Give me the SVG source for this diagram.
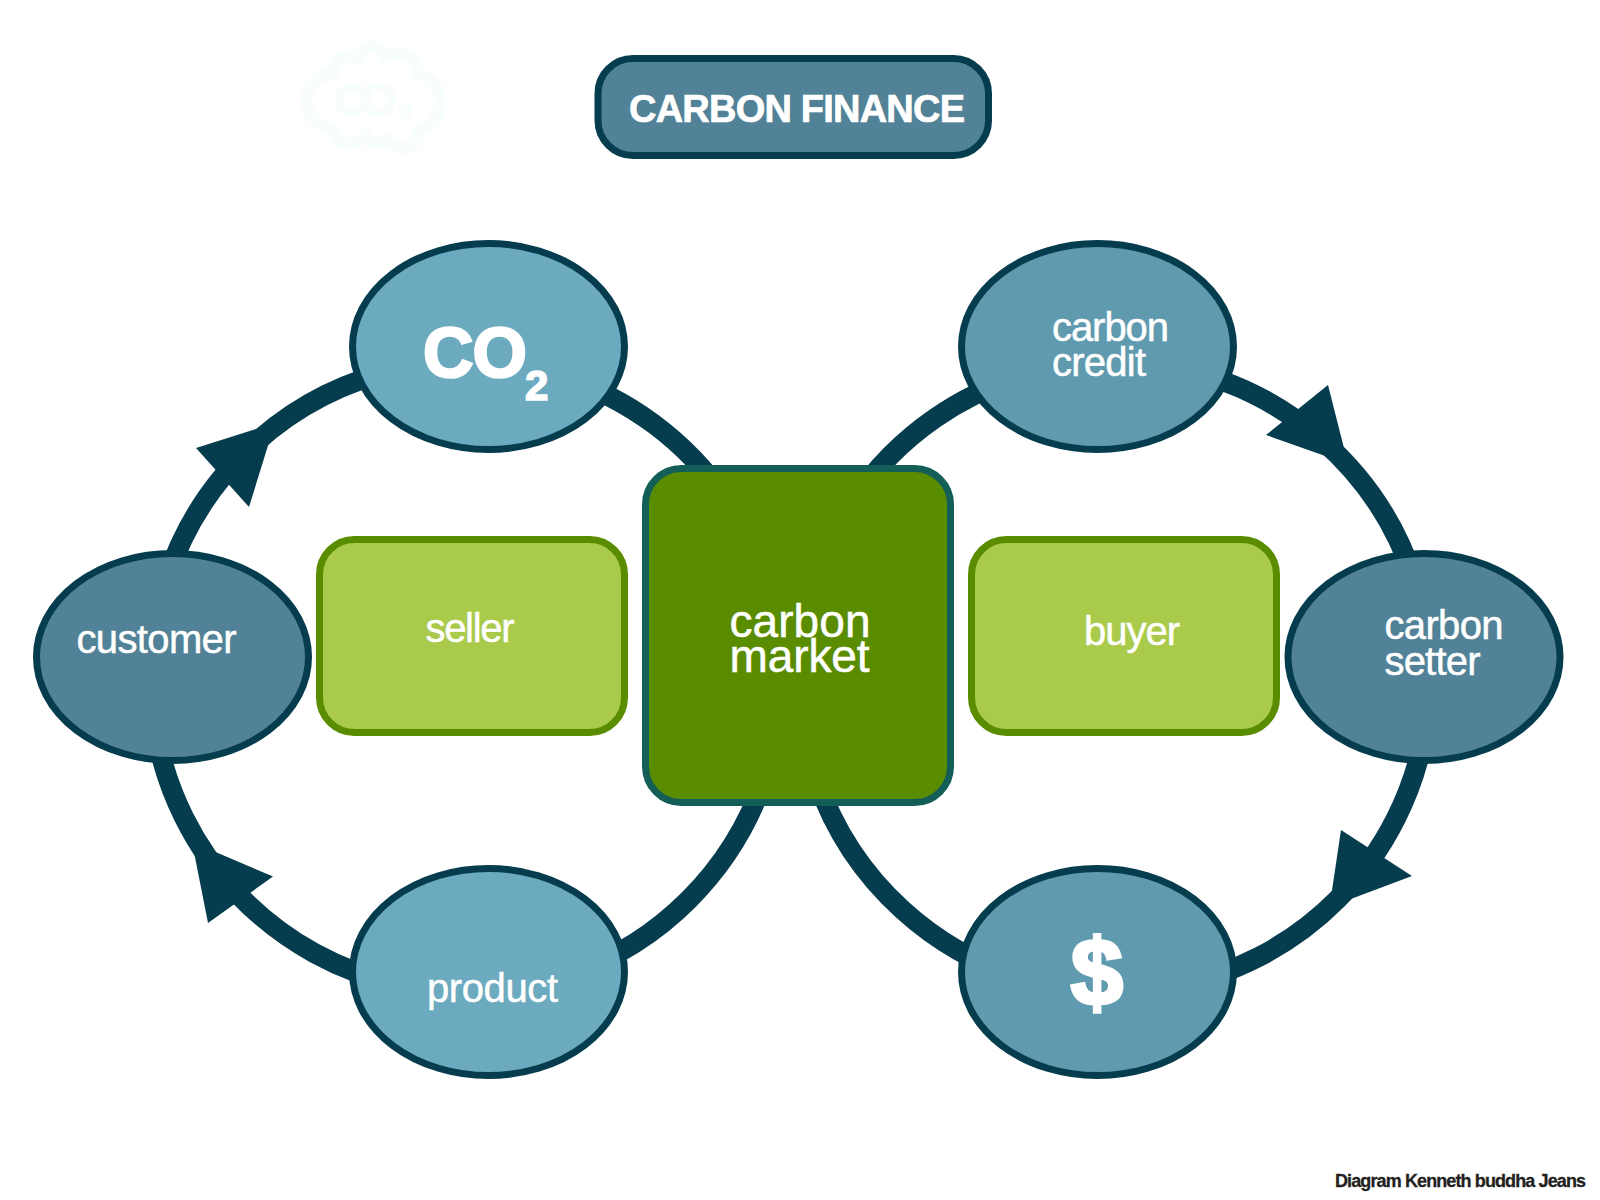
<svg xmlns="http://www.w3.org/2000/svg" width="1600" height="1200" viewBox="0 0 1600 1200">
<style>
text{font-family:"Liberation Sans",Arial,sans-serif;fill:#fff;stroke:#fff;stroke-width:.5px;font-size:40px}
.bold{font-weight:700;stroke-width:1.6px}
.n{stroke:#063d4e;stroke-width:7}
.a{fill:#6baabf}.b{fill:#609aaf}.c{fill:#518297}
.g{fill:#a9ca4b;stroke:#5a8c00;stroke-width:7}
.arc{fill:none;stroke:#063d4e;stroke-width:20}
.h{fill:#063d4e}
.pale{fill:#f8fdfd;stroke:#f8fdfd}
</style>
<rect width="1600" height="1200" fill="#fff"/>
<g id="co2-cloud">
<path d="M332.700 73.300A17 17 0 0 1 358.300 58.300A13.600 13.600 0 0 1 385 56.700A20 20 0 0 1 416.700 73.300A29 29 0 0 1 418.300 130A16.500 16.500 0 0 1 386.700 138.300A14 14 0 0 1 365 135A18 18 0 0 1 331.700 128.300A27.600 27.600 0 0 1 332.700 73.300Z" fill="#fff" stroke="#f8fdfd" stroke-width="12" stroke-linejoin="round"/>
<text class="pale bold" x="334" y="116" textLength="62" style="font-size:46px">CO</text>
<text class="pale bold" x="399" y="120" style="font-size:24px">2</text>
</g>
<g id="connectors">
<path class="arc" d="M166.300 580A315 315 0 0 1 400 369"/>
<path class="arc" d="M560 376.400A315 315 0 0 1 726.600 500"/>
<path class="arc" d="M155.500 730A315 315 0 0 0 400 985"/>
<path class="arc" d="M763.700 780A315 315 0 0 1 570 974.300"/>
<path class="arc" d="M816.800 780A315 315 0 0 0 1040 983"/>
<path class="arc" d="M853.900 500A315 315 0 0 1 1040 371"/>
<path class="arc" d="M1170 367A315 315 0 0 1 1414.200 580"/>
<path class="arc" d="M1425 730A315 315 0 0 1 1170 987"/>
<polygon class="h" points="196,448 249,507 275,423"/>
<polygon class="h" points="1328,385 1266,435 1348,464"/>
<polygon class="h" points="1341,830 1412,876 1329.500,907"/>
<polygon class="h" points="273,876.500 208,923 192,842"/>
</g>
<g id="title"><rect class="n c" x="598" y="58.500" width="390.500" height="97" rx="35" ry="35"/><text class="bold" x="629" y="121.500" textLength="336" style="font-size:38px;stroke-width:.7px">CARBON FINANCE</text></g>
<g id="co2"><ellipse class="n a" cx="488.500" cy="346.500" rx="136" ry="103"/><text class="bold" x="423" y="377" textLength="104" style="font-size:70px;stroke-width:2.500px">CO</text><text class="bold" x="525" y="400" style="font-size:42px">2</text></g>
<g id="customer"><ellipse class="n c" cx="172.500" cy="657" rx="136" ry="103.500"/><text x="76.500" y="652.500" textLength="160">customer</text></g>
<g id="product"><ellipse class="n a" cx="488.500" cy="972" rx="136" ry="103.500"/><text x="427" y="1001.500" textLength="131">product</text></g>
<g id="carbon-credit"><ellipse class="n b" cx="1097.500" cy="346.500" rx="136" ry="103"/><text x="1052" y="340.500" textLength="117">carbon</text><text x="1052" y="376" textLength="94">credit</text></g>
<g id="carbon-setter"><ellipse class="n c" cx="1424" cy="657" rx="136" ry="103.500"/><text x="1384.500" y="638.500" textLength="119">carbon</text><text x="1384.500" y="674.500" textLength="96">setter</text></g>
<g id="dollar"><ellipse class="n b" cx="1097.500" cy="972" rx="136" ry="103.500"/><text class="bold" x="1097" y="1005" text-anchor="middle" style="font-size:94px;stroke-width:3.500px">$</text></g>
<g id="seller"><rect class="g" x="319.500" y="539.500" width="305" height="193" rx="35" ry="35"/><text x="425.500" y="642" textLength="89">seller</text></g>
<g id="buyer"><rect class="g" x="971.500" y="539.500" width="305" height="193" rx="35" ry="35"/><text x="1084" y="644.500" textLength="96">buyer</text></g>
<g id="carbon-market"><rect x="645.500" y="468.500" width="305" height="334" rx="36" ry="36" fill="#5a8c00" stroke="#145e58" stroke-width="7"/><text x="729.500" y="636.500" textLength="141" style="font-size:46px">carbon</text><text x="729.500" y="671.500" textLength="140" style="font-size:46px">market</text></g>
<text id="credit" class="bold" x="1335" y="1187" textLength="251" style="fill:#231f20;stroke:#231f20;stroke-width:.3px;font-size:18px">Diagram Kenneth buddha Jeans</text>
</svg>
